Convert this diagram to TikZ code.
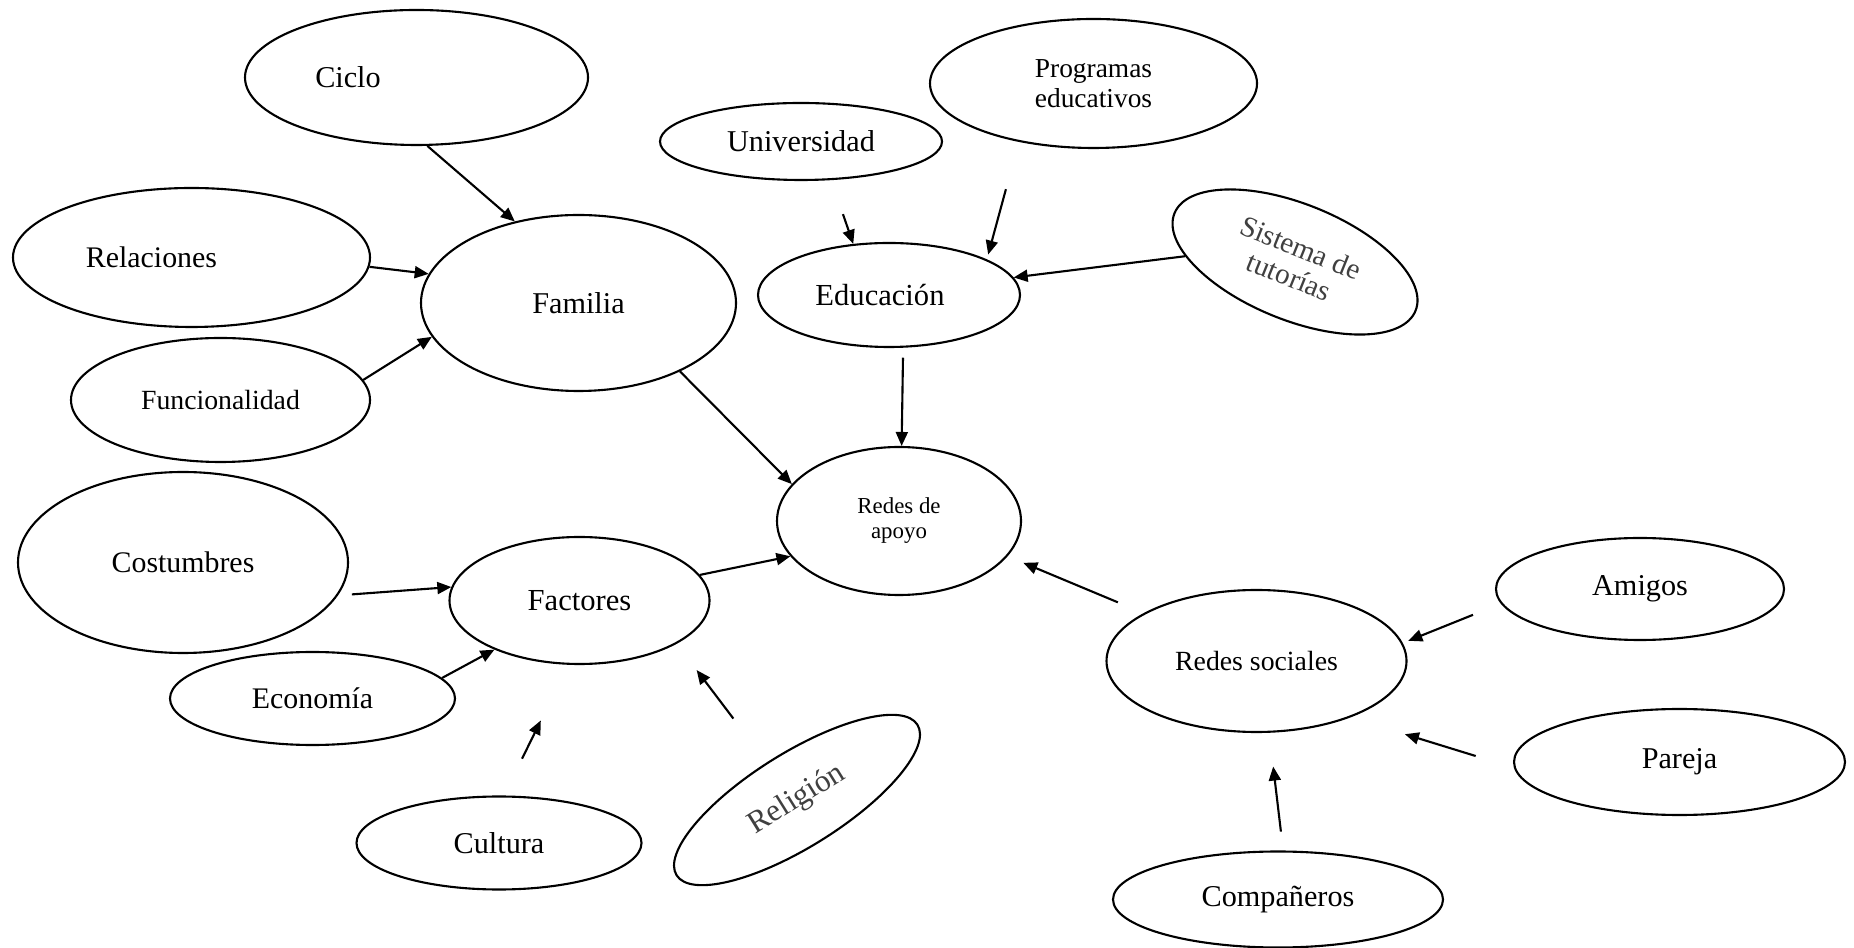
\documentclass[tikz,border=0pt]{standalone}
\usepackage{fontspec}
\setmainfont{Liberation Serif}
\usetikzlibrary{shapes.geometric,arrows.meta}

\tikzset{
  globo/.style={draw, ellipse, line width=0.6pt, inner sep=0pt, font=\fontsize{8.6}{10}\selectfont},
  flecha/.style={-{Triangle[length=1.4mm,width=1.2mm]}, line width=0.6pt},
}

\begin{document}
\begin{tikzpicture}
\useasboundingbox (0,0) rectangle (18.54,-9.48);

% Familia
\node[globo, minimum width=3.15cm, minimum height=1.76cm] (familia) at (5.785,-3.03) {Familia};
\node[globo, minimum width=3.43cm, minimum height=1.35cm] (ciclo) at (4.165,-0.775) {Ciclo\hspace*{1.37cm}};
\node[globo, minimum width=3.57cm, minimum height=1.39cm, font=\fontsize{8.5}{10}\selectfont] (relaciones) at (1.915,-2.575) {Relaciones\hspace*{0.8cm}};
\node[globo, minimum width=2.99cm, minimum height=1.24cm, font=\fontsize{7.9}{9}\selectfont] (funcionalidad) at (2.205,-4.0) {Funcionalidad};

% Educacion
\node[globo, minimum width=2.62cm, minimum height=1.04cm, font=\fontsize{8.7}{10}\selectfont] (educacion) at (8.89,-2.95) {Educación\hspace*{0.18cm}};
\node[globo, minimum width=2.82cm, minimum height=0.77cm] (universidad) at (8.01,-1.415) {Universidad};
\node[globo, minimum width=3.27cm, minimum height=1.29cm, align=center, font=\fontsize{7.8}{8.5}\selectfont] (programas) at (10.935,-0.835) {Programas\\educativos};
\node[globo, minimum width=2.6cm, minimum height=1.16cm, rotate=-22, align=center, text=black!75, font=\fontsize{8.3}{8.8}\selectfont] (sistema) at (12.95,-2.62) {Sistema de\\tutorías};

% centro
\node[globo, minimum width=2.44cm, minimum height=1.48cm, align=center, font=\fontsize{6.5}{7.1}\selectfont] (apoyo) at (8.99,-5.21) {Redes de\\apoyo};

% Factores
\node[globo, minimum width=2.6cm, minimum height=1.27cm, font=\fontsize{8.7}{10}\selectfont] (factores) at (5.795,-6.005) {Factores};
\node[globo, minimum width=3.3cm, minimum height=1.81cm, font=\fontsize{8.5}{10}\selectfont] (costumbres) at (1.83,-5.625) {Costumbres};
\node[globo, minimum width=2.85cm, minimum height=0.93cm, font=\fontsize{8.5}{10}\selectfont] (economia) at (3.125,-6.985) {Economía};
\node[globo, minimum width=2.85cm, minimum height=0.93cm] (cultura) at (4.99,-8.43) {Cultura};
\node[globo, minimum width=2.84cm, minimum height=0.94cm, rotate=32, text=black!75, font=\fontsize{8.9}{10}\selectfont] (religion) at (7.97,-8.0) {Religión};

% Redes sociales
\node[globo, minimum width=3.0cm, minimum height=1.42cm, font=\fontsize{7.9}{9}\selectfont] (sociales) at (12.565,-6.61) {Redes sociales};
\node[globo, minimum width=2.88cm, minimum height=1.02cm] (amigos) at (16.40,-5.89) {Amigos};
\node[globo, minimum width=3.31cm, minimum height=1.06cm] (pareja) at (16.795,-7.62) {Pareja};
\node[globo, minimum width=3.3cm, minimum height=0.96cm] (companeros) at (12.78,-8.995) {Compañeros};

% flechas hacia Familia
\draw[flecha] (ciclo.-81) -- (familia.128);
\draw[flecha] (relaciones.-3) -- (familia.169);
\draw[flecha] (funcionalidad.8) -- (familia.193);
% flechas hacia Educacion
\draw[flecha, shorten <=0.36cm] (universidad.-52) -- (educacion.125);
\draw[flecha, shorten <=0.49cm, shorten >=0.05cm] (programas.-142) -- (educacion.20);
\draw[flecha] (sistema.199) -- (educacion.8);
% flechas hacia Factores
\draw[flecha, shorten <=0.14cm] (costumbres.-12) -- (factores.174);
\draw[flecha] (economia.9) -- (factores.-150);
\draw[flecha, shorten <=0.41cm, shorten >=0.62cm] (cultura.84) -- (factores.-100);
\draw[flecha, shorten <=0.55cm, shorten >=0.33cm] (religion.97) -- (factores.-24);
% flechas hacia Redes sociales
\draw[flecha, shorten <=0.30cm, shorten >=0.06cm] (amigos.-174) -- (sociales.7);
\draw[flecha, shorten <=0.40cm, shorten >=0.57cm] (pareja.-178) -- (sociales.-31);
\draw[flecha, shorten <=0.19cm, shorten >=0.34cm] (companeros.84) -- (sociales.-80);
% flechas hacia Redes de apoyo
\draw[flecha] (familia.-34) -- (apoyo.161);
\draw[flecha, shorten <=0.10cm] (educacion.-75) -- (apoyo.88);
\draw[flecha] (factores.12) -- (apoyo.-162);
\draw[flecha, shorten <=0.28cm, shorten >=0.17cm] (sociales.157) -- (apoyo.-18);

\end{tikzpicture}
\end{document}
